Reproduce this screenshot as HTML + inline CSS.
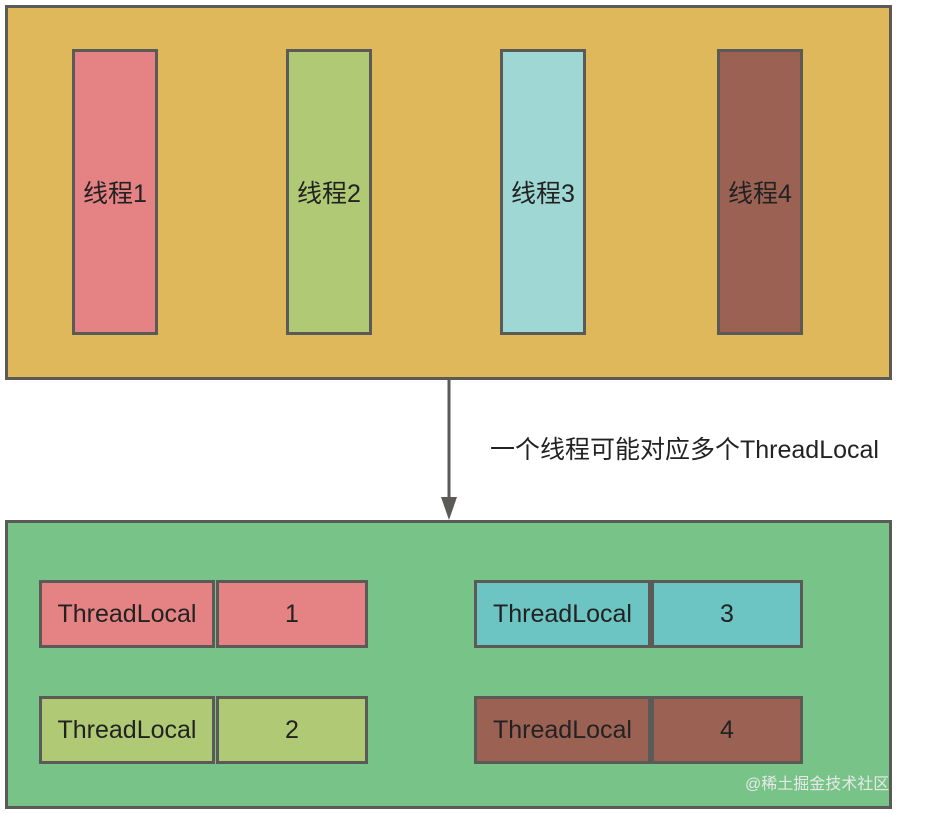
<!DOCTYPE html>
<html><head><meta charset="utf-8"><style>
body{margin:0;width:928px;height:813px;background:#fff;position:relative;overflow:hidden;font-family:"Liberation Sans","Noto Sans CJK SC",sans-serif;color:#222}
.b{position:absolute;box-sizing:border-box;border:3px solid #5c5a56;display:flex;align-items:center;justify-content:center;font-size:25px}
</style></head><body>
<div class="b" style="left:5px;top:5px;width:887px;height:375px;background:#dfb85b"></div>
<div class="b" style="left:72px;top:49px;width:86px;height:286px;background:#e58283">线程1</div>
<div class="b" style="left:286px;top:49px;width:86px;height:286px;background:#b0c975">线程2</div>
<div class="b" style="left:500px;top:49px;width:86px;height:286px;background:#9ed7d3">线程3</div>
<div class="b" style="left:717px;top:49px;width:86px;height:286px;background:#9b6253">线程4</div>
<svg style="position:absolute;left:0;top:0" width="928" height="813"><line x1="449" y1="380" x2="449" y2="500" stroke="#5c5a56" stroke-width="3"/><polygon points="441,497 457,497 449,520" fill="#5c5a56"/></svg>
<div style="position:absolute;left:490px;top:430px;font-size:25px;white-space:nowrap">一个线程可能对应多个ThreadLocal</div>
<div class="b" style="left:5px;top:520px;width:887px;height:289px;background:#78c488"></div>
<div class="b" style="left:39px;top:580px;width:176px;height:68px;background:#e58283">ThreadLocal</div>
<div class="b" style="left:216px;top:580px;width:152px;height:68px;background:#e58283">1</div>
<div class="b" style="left:39px;top:696px;width:176px;height:68px;background:#b0c975">ThreadLocal</div>
<div class="b" style="left:216px;top:696px;width:152px;height:68px;background:#b0c975">2</div>
<div class="b" style="left:474px;top:580px;width:177px;height:68px;background:#6cc4c3">ThreadLocal</div>
<div class="b" style="left:651px;top:580px;width:152px;height:68px;background:#6cc4c3">3</div>
<div class="b" style="left:474px;top:696px;width:177px;height:68px;background:#9b6253">ThreadLocal</div>
<div class="b" style="left:651px;top:696px;width:152px;height:68px;background:#9b6253">4</div>
<div style="position:absolute;left:745px;top:770px;font-size:16px;color:#e8e8e8">@稀土掘金技术社区</div>
</body></html>
